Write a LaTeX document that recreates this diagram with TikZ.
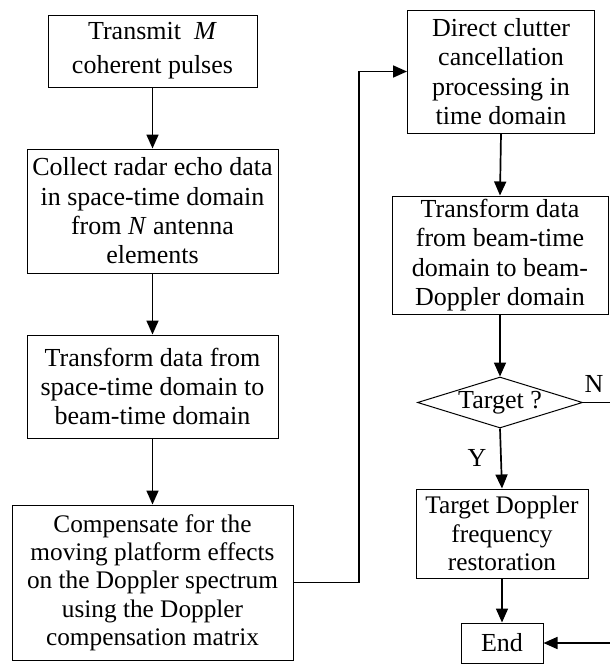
\documentclass[tikz,border=0pt]{standalone}
\usepackage{fontspec}
\setmainfont{Liberation Serif}
\usetikzlibrary{shapes.geometric,arrows.meta}
\begin{document}
\begin{tikzpicture}[x=1pt,y=-1pt,
  every node/.style={font=\fontsize{26}{29.3}\selectfont, inner sep=0pt, align=center},
  small/.style={font=\fontsize{25.3}{28.3}\selectfont},
  box/.style={draw, line width=1pt, rectangle},
  dec/.style={draw, line width=1pt, diamond, aspect=3.2, minimum width=165pt, minimum height=51pt},
  arr/.style={line width=1.7pt, -{Triangle[length=14pt,width=12pt]}}]
\clip (0,0) rectangle (610,665);
\fill[white] (0,0) rectangle (610,665);
\node[box, font=\fontsize{26}{34}\selectfont, minimum width=209pt, minimum height=72pt] (b1) at (152.5,51) {Transmit \ \textit{M}\\coherent pulses};
\node[box, minimum width=251pt, minimum height=124pt] (b2) at (152.5,211) {Collect radar echo data\\in space-time domain\\from \textit{N} antenna\\elements};
\node[box, minimum width=251pt, minimum height=103pt] (b3) at (152.5,386.5) {Transform data from\\space-time domain to\\beam-time domain};
\node[box, small, minimum width=281pt, minimum height=155pt] (b4) at (152.5,582.5) {Compensate for the\\moving platform effects\\on the Doppler spectrum\\using the Doppler\\compensation matrix};
\node[box, minimum width=187pt, minimum height=123pt] (b5) at (501,71.5) {Direct clutter\\cancellation\\processing in\\time domain};
\node[box, minimum width=216pt, minimum height=118pt] (b6) at (500,255) {Transform data\\from beam-time\\domain to beam-\\Doppler domain};
\node[dec] (d) at (500,402.5) {Target ?};
\node[box, small, minimum width=172pt, minimum height=89pt] (b7) at (502,533.5) {Target Doppler\\frequency\\restoration};
\node[box, minimum width=82pt, minimum height=40pt] (e) at (502,643) {End};
\node (ny) at (477,458) {Y};
\node (nn) at (594,384) {N};
\coordinate (c1) at (359,582.5);
\coordinate (c2) at (613,402.5);
\draw[arr] (b1.south) -- (b2.north);
\draw[arr] (b2.south) -- (b3.north);
\draw[arr] (b3.south) -- (b4.north);
\draw[arr] (b4.east) -- (c1) |- (b5.west);
\draw[arr] (b5.south) -- (b6.north);
\draw[arr] (b6.south) -- (d.north);
\draw[arr] (d.south) -- (b7.north);
\draw[arr] (b7.south) -- (e.north);
\draw[arr] (d.east) -- (c2) |- (e.east);
\end{tikzpicture}
\end{document}
